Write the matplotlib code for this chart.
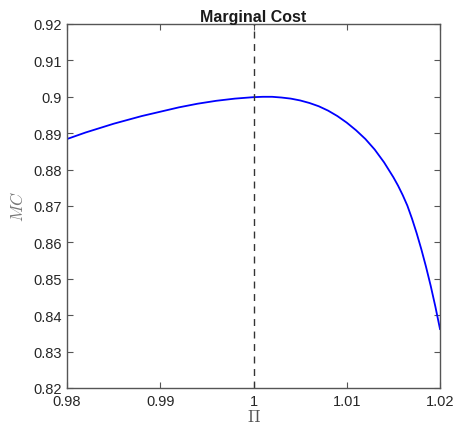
import matplotlib
matplotlib.use("Agg")
import matplotlib.pyplot as plt

# Data
pi_vals = [0.980, 0.981, 0.982, 0.983, 0.984, 0.985, 0.986, 0.987, 0.988, 0.989,
           0.990, 0.991, 0.992, 0.993, 0.994, 0.995, 0.996, 0.997, 0.998, 0.999,
           1.000, 1.001, 1.002, 1.003, 1.004, 1.005, 1.006, 1.007, 1.008, 1.009,
           1.010, 1.011, 1.012, 1.013, 1.014, 1.015, 1.0155, 1.016, 1.0165, 1.017,
           1.0175, 1.018, 1.0185, 1.019, 1.0195, 1.020]
mc_vals = [0.8884, 0.8893, 0.8902, 0.8910, 0.8918, 0.8926, 0.8933, 0.8940, 0.8947, 0.8953,
           0.8959, 0.8965, 0.8971, 0.8976, 0.8981, 0.8985, 0.8989, 0.8992, 0.8995, 0.8997,
           0.8999, 0.9000, 0.9000, 0.8998, 0.8995, 0.8990, 0.8983, 0.8974, 0.8962, 0.8947,
           0.8929, 0.8908, 0.8884, 0.8855, 0.8820, 0.8779, 0.8756, 0.8730, 0.8701, 0.8665,
           0.8625, 0.8581, 0.8533, 0.8481, 0.8424, 0.8362]
steady_state_pi = 1.0
x_ticks = [0.98, 0.99, 1.0, 1.01, 1.02]
x_ticklabels = ["0.98", "0.99", "1", "1.01", "1.02"]
y_ticks = [0.82, 0.83, 0.84, 0.85, 0.86, 0.87, 0.88, 0.89, 0.90, 0.91, 0.92]
y_ticklabels = ["0.82", "0.83", "0.84", "0.85", "0.86", "0.87", "0.88", "0.89", "0.9", "0.91", "0.92"]

plt.rcParams['font.family'] = ['Liberation Sans', 'DejaVu Sans']
plt.rcParams['mathtext.fontset'] = 'cm'

fig = plt.figure(figsize=(4.56, 4.27), dpi=100)
ax = fig.add_axes([67/456, 38/427, (440-67)/456, (389-25)/427])

ax.plot(pi_vals, mc_vals, color=(0, 0, 1), lw=1.3, solid_joinstyle='round')
ax.axvline(steady_state_pi, color='#333333', lw=1.0, ls=(0, (5, 4)))

ax.set_xlim(0.98, 1.02)
ax.set_ylim(0.82, 0.92)
ax.set_xticks(x_ticks)
ax.set_xticklabels(x_ticklabels)
ax.set_yticks(y_ticks)
ax.set_yticklabels(y_ticklabels)

for s in ax.spines.values():
    s.set_color('#555555')
    s.set_linewidth(1.0)
ax.tick_params(direction='in', length=4, width=0.8, color='#555555',
               top=True, right=True, labelsize=10.5, labelcolor='#262626')
ax.tick_params(axis='x', pad=4)
ax.tick_params(axis='y', pad=4)

ax.set_title("Marginal Cost", fontsize=11.5, fontweight='bold', color='#1a1a1a', pad=2)
ax.set_xlabel(r"$\Pi$", fontsize=12, color='#555555', labelpad=0)
ax.set_ylabel(r"$MC$", fontsize=12, color='#777777', labelpad=5)

fig.savefig("out.png", dpi=100)
